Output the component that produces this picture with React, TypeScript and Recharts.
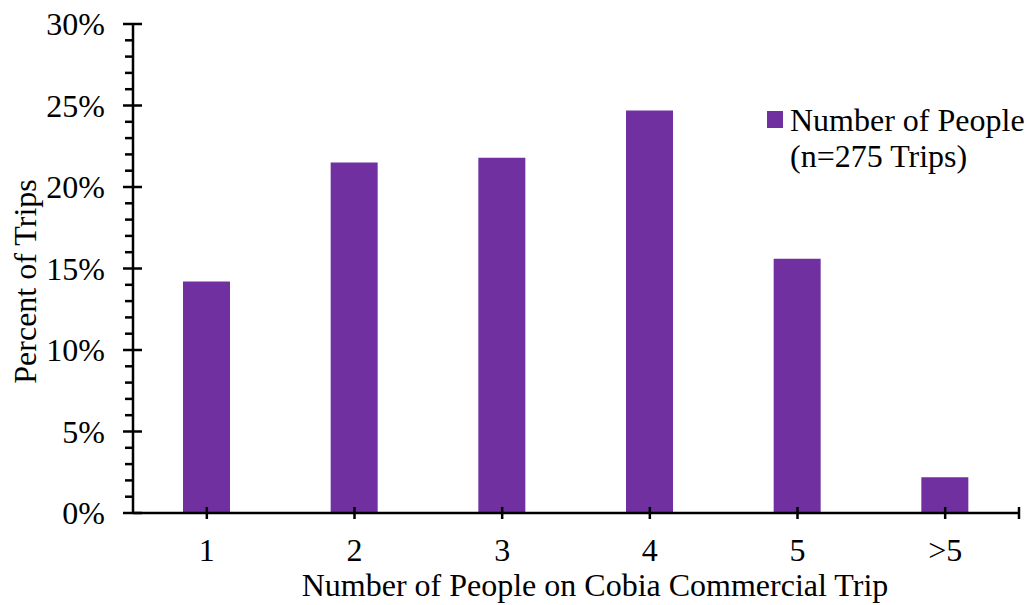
import React from 'react';
import { BarChart, Bar, XAxis, YAxis, Legend } from 'recharts';

const categories = ['1', '2', '3', '4', '5', '>5'];
const percentOfTrips = [14.2, 21.5, 21.8, 24.7, 15.6, 2.2];
const yTicks = Array.from({ length: 31 }, (_, i) => i);

const data = categories.map((c, i) => ({ people: c, value: percentOfTrips[i] }));

const FONT = '"Liberation Serif", "Times New Roman", serif';
const PURPLE = '#7030A0';
const FS = 32;

const YTick = (props: any) => {
  const { x, y, payload } = props;
  const v = payload.value;
  const major = v % 5 === 0;
  return (
    <g>
      <line x1={major ? x - 10 : x - 8} x2={major ? x + 9 : x} y1={y} y2={y} stroke="#000" strokeWidth={2.5} />
      {major && (
        <text x={x - 28} y={y} dy="0.35em" textAnchor="end" fontFamily={FONT} fontSize={FS} fill="#000">
          {v}%
        </text>
      )}
    </g>
  );
};

const XTick = (props: any) => {
  const { x, y, payload, index, visibleTicksCount } = props;
  const isLast = index === visibleTicksCount - 1;
  const off = payload && payload.offset ? payload.offset : 0;
  return (
    <g>
      <line x1={x} x2={x} y1={y - 6} y2={y + 6} stroke="#000" strokeWidth={2.5} />
      {isLast && off ? (
        <line x1={x + off} x2={x + off} y1={y - 6} y2={y + 6} stroke="#000" strokeWidth={2.5} />
      ) : null}
      <text x={x} y={y + 48} textAnchor="middle" fontFamily={FONT} fontSize={FS} fill="#000">
        {payload.value}
      </text>
    </g>
  );
};

const LegendContent = () => (
  <div style={{ display: 'flex', alignItems: 'flex-start', fontFamily: FONT, fontSize: FS, color: '#000', lineHeight: '36px', whiteSpace: 'nowrap' }}>
    <div style={{ width: 16, height: 17, background: PURPLE, marginTop: 9, marginRight: 7, flex: '0 0 auto' }} />
    <div>
      <div>Number of People</div>
      <div>(n=275 Trips)</div>
    </div>
  </div>
);

export default function App() {
  return (
    <div style={{ position: 'absolute', left: 0, top: 0, width: 1027, height: 605, background: '#fff', overflow: 'hidden' }}>
      <BarChart
        width={1027}
        height={605}
        data={data}
        margin={{ top: 24, right: 8, bottom: 0, left: 0 }}
      >
        <XAxis
          dataKey="people"
          height={92}
          tickSize={0}
          tickMargin={0}
          tickLine={false}
          interval={0}
          axisLine={{ stroke: '#000', strokeWidth: 2.5 }}
          tick={<XTick />}
          label={{
            value: 'Number of People on Cobia Commercial Trip',
            position: 'insideBottom',
            offset: 9,
            dx: 19,
            style: { fontFamily: FONT, fontSize: FS, fill: '#000' },
          }}
        />
        <YAxis
          width={133}
          domain={[0, 30]}
          ticks={yTicks}
          interval={0}
          tickSize={0}
          tickMargin={0}
          tickLine={false}
          axisLine={{ stroke: '#000', strokeWidth: 2.5 }}
          tick={<YTick />}
          label={{
            value: 'Percent of Trips',
            angle: -90,
            position: 'insideLeft',
            offset: 0,
            dx: 25,
            dy: 13,
            style: { fontFamily: FONT, fontSize: FS, fill: '#000', textAnchor: 'middle' },
          }}
        />
        <Legend
          verticalAlign="top"
          align="left"
          content={<LegendContent />}
          wrapperStyle={{ position: 'absolute', left: 767, top: 102, width: 0, height: 0, overflow: 'visible' }}
        />
        <Bar dataKey="value" fill={PURPLE} barSize={47} isAnimationActive={false} />
      </BarChart>
    </div>
  );
}
